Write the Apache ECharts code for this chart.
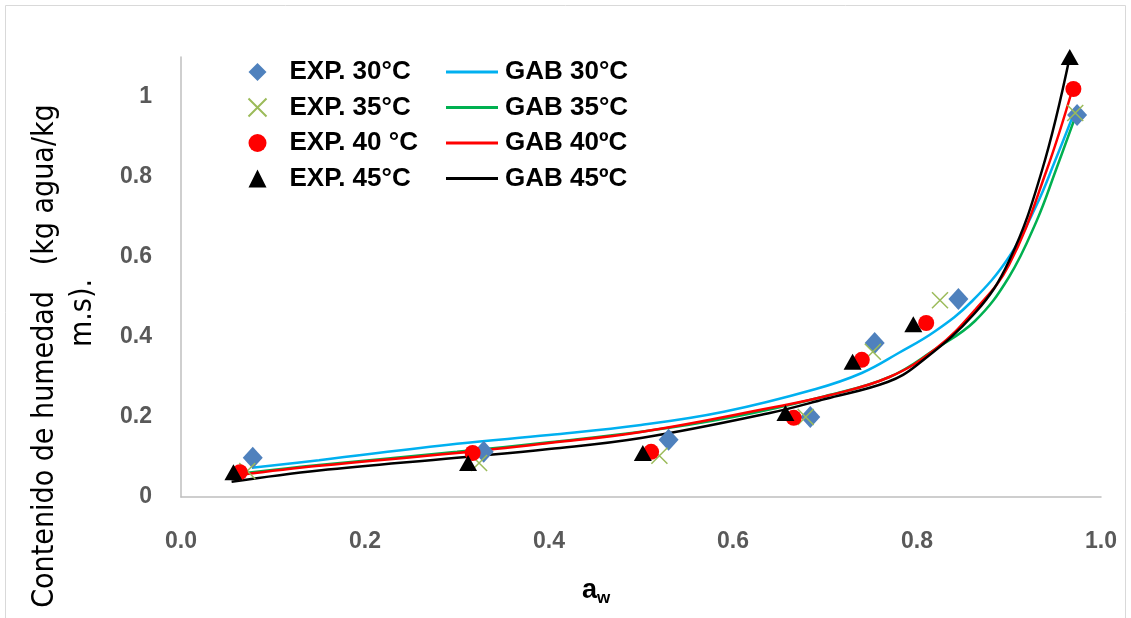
<!DOCTYPE html>
<html><head><meta charset="utf-8">
<script src="https://cdn.jsdelivr.net/npm/echarts@6/dist/echarts.min.js"></script>
<style>html,body{margin:0;padding:0;background:#fff}#c{width:1131px;height:618px}</style>
</head><body><div id="c"></div>
<script>
// Experimental points [aw, moisture]
const exp30 = [[0.078,0.098],[0.329,0.113],[0.530,0.143],[0.684,0.200],[0.754,0.385],[0.845,0.495],[0.974,0.955]];
const exp35 = [[0.072,0.065],[0.324,0.085],[0.520,0.103],[0.679,0.200],[0.752,0.363],[0.825,0.492],[0.972,0.960]];
const exp40 = [[0.064,0.062],[0.317,0.110],[0.511,0.113],[0.666,0.198],[0.740,0.343],[0.810,0.435],[0.970,1.020]];
const exp45 = [[0.057,0.062],[0.312,0.085],[0.502,0.110],[0.657,0.210],[0.730,0.338],[0.796,0.432],[0.966,1.100]];
// GAB model curves
const gab30 = [[0.077,0.073],[0.15,0.092],[0.3,0.133],[0.4,0.155],[0.5,0.18],[0.59,0.213],[0.69,0.27],[0.74,0.31],[0.78,0.36],[0.82,0.415],[0.86,0.49],[0.9,0.6],[0.93,0.73],[0.95,0.84],[0.969,0.95]];
const gab35 = [[0.07,0.06],[0.15,0.08],[0.3,0.113],[0.4,0.137],[0.5,0.163],[0.6,0.2],[0.7,0.252],[0.77,0.3],[0.82,0.37],[0.863,0.44],[0.9,0.55],[0.93,0.69],[0.951,0.8175],[0.972,0.95]];
const gab40 = [[0.063,0.055],[0.15,0.078],[0.3,0.11],[0.4,0.135],[0.5,0.1625],[0.64,0.2225],[0.706,0.255],[0.77,0.3],[0.82,0.37],[0.863,0.4675],[0.9,0.58],[0.941,0.8175],[0.97,1.0275]];
const gab45 = [[0.055,0.038],[0.15,0.066],[0.3,0.098],[0.4,0.12],[0.5,0.1475],[0.64,0.21],[0.7,0.245],[0.768,0.2875],[0.8,0.33],[0.863,0.46],[0.9,0.59],[0.936,0.8175],[0.966,1.1]];
const expNames = ['EXP. 30°C','EXP. 35°C','EXP. 40 °C','EXP. 45°C'];
const gabNames = ['GAB 30°C','GAB 35°C','GAB 40ºC','GAB 45ºC'];
const yTitle1 = 'Contenido de humedad   (kg agua/kg';
const yTitle2 = 'm.s).';

const FONT = '"Liberation Sans",Arial,sans-serif';
const TFONT = '"DejaVu Sans Condensed","Liberation Sans",sans-serif';
const chart = echarts.init(document.getElementById('c'));
const crossPath = 'path://M0,0L10,10M10,0L0,10';
const lineS = (name, data, color) => ({name, type:'line', data, smooth:0.4, symbol:'none',
  lineStyle:{color, width:2.5}, itemStyle:{color}, z:2});
const legText = {fontSize:26, lineHeight:26, fontWeight:'bold', fontFamily:FONT, color:'#000'};
chart.setOption({
  animation:false,
  grid:{left:181, right:30, top:57, bottom:121, containLabel:false},
  xAxis:{type:'value', min:0, max:1, interval:0.2,
    axisLine:{lineStyle:{color:'#BFBFBF', width:1.5}}, axisTick:{show:false}, splitLine:{show:false},
    axisLabel:{color:'#595959', fontWeight:'bold', fontSize:23, fontFamily:FONT, margin:33,
      formatter:v=>v.toFixed(1)}},
  yAxis:{type:'value', min:0, max:1.1, interval:0.2,
    axisLine:{show:true, lineStyle:{color:'#BFBFBF', width:1.5}}, axisTick:{show:false}, splitLine:{show:false},
    axisLabel:{color:'#595959', fontWeight:'bold', fontSize:23, fontFamily:FONT, margin:29, showMaxLabel:false,
      formatter:v=> (v>1.05? '' : String(+v.toFixed(1)))}},
  legend:[
    {data:expNames, orient:'vertical', left:241, top:54, itemGap:9.5, itemWidth:18, itemHeight:18,
     textStyle:Object.assign({padding:[0,0,0,18]}, legText)},
    {data:gabNames.map(n=>({name:n, icon:'rect'})), orient:'vertical', left:441, top:54, itemGap:9.5, itemWidth:52, itemHeight:3,
     textStyle:Object.assign({padding:[0,0,0,2]}, legText)}
  ],
  graphic:[
    {type:'rect', shape:{x:5.5,y:5.5,width:1120,height:640}, style:{fill:'none', stroke:'#D9D9D9', lineWidth:1}, silent:true},
    {type:'text', x:45, y:356, rotation:Math.PI/2, style:{text:yTitle1, fontSize:30, fontFamily:TFONT, fill:'#000', textAlign:'center', textVerticalAlign:'middle'}},
    {type:'text', x:83, y:313, rotation:Math.PI/2, style:{text:yTitle2, fontSize:30, fontFamily:TFONT, fill:'#000', textAlign:'center', textVerticalAlign:'middle'}},
    {type:'text', x:596, y:591, style:{text:'{a|a}{w|w}', textAlign:'center', textVerticalAlign:'middle',
      rich:{a:{fontSize:27,fontWeight:'bold',fontFamily:FONT,fill:'#000'},
            w:{fontSize:17,fontWeight:'bold',fontFamily:FONT,fill:'#000',padding:[14,0,0,0]}}}}
  ],
  series:[
    {name:expNames[0], type:'scatter', data:exp30, symbol:'diamond', symbolSize:[20,22], itemStyle:{color:'#4F81BD', opacity:1}, z:3},
    {name:expNames[1], type:'scatter', data:exp35, symbol:crossPath, symbolSize:16, itemStyle:{color:'none', borderColor:'#9BBB59', borderWidth:1.5, opacity:1}, z:3},
    {name:expNames[2], type:'scatter', data:exp40, symbol:'circle', symbolSize:16, itemStyle:{color:'#FF0000', opacity:1}, z:3},
    {name:expNames[3], type:'scatter', data:exp45, symbol:'triangle', symbolSize:[18,16], itemStyle:{color:'#000', opacity:1}, z:3},
    lineS(gabNames[0], gab30, '#00B0F0'),
    lineS(gabNames[1], gab35, '#00B050'),
    lineS(gabNames[2], gab40, '#FF0000'),
    lineS(gabNames[3], gab45, '#000000')
  ]
});
</script></body></html>
